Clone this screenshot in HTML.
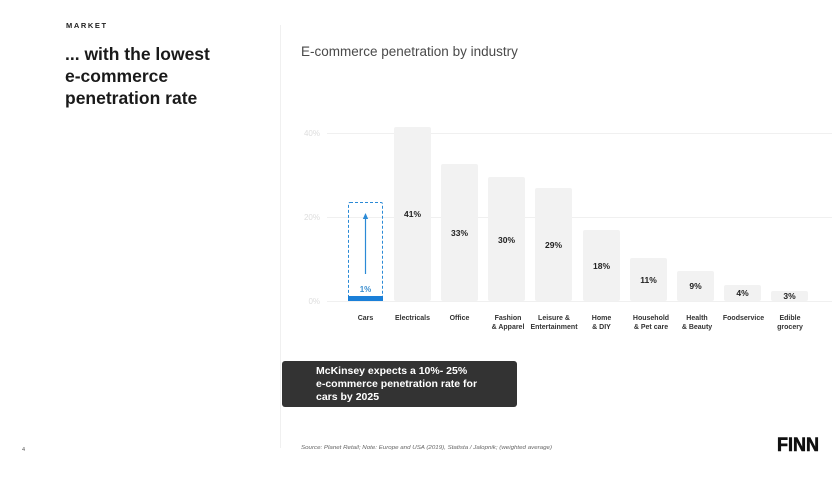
<!DOCTYPE html>
<html><head><meta charset="utf-8"><style>
html,body{margin:0;padding:0;background:#fff;}
body{width:840px;height:473px;overflow:hidden;font-family:"Liberation Sans",sans-serif;}
</style></head><body>
<svg width="840" height="473" viewBox="0 0 840 473" xmlns="http://www.w3.org/2000/svg" font-family="Liberation Sans, sans-serif">
<text x="66" y="28" font-size="7.5" font-weight="bold" letter-spacing="1.6" fill="#222">MARKET</text>
<text font-size="17.5" font-weight="bold" fill="#1a1a1a">
<tspan x="65" y="60">... with the lowest</tspan>
<tspan x="65" y="82">e-commerce</tspan>
<tspan x="65" y="104">penetration rate</tspan>
</text>
<line x1="280.5" y1="25" x2="280.5" y2="448" stroke="#f0f0f0" stroke-width="1"/>
<text x="301" y="56" font-size="13.5" fill="#4a4a4a">E-commerce penetration by industry</text>
<g stroke="#f0f0f0" stroke-width="1">
<line x1="327" y1="133.5" x2="832" y2="133.5"/>
<line x1="327" y1="217.5" x2="832" y2="217.5"/>
<line x1="327" y1="301.5" x2="832" y2="301.5"/>
</g>
<g font-size="8" fill="#ddd" text-anchor="end">
<text x="320" y="136">40%</text><text x="320" y="220">20%</text><text x="320" y="304">0%</text>
</g>
<g fill="#f2f2f2">
<rect x="394" y="127" width="37" height="174" rx="2"/>
<rect x="441" y="164" width="37" height="137" rx="2"/>
<rect x="488" y="177" width="37" height="124" rx="2"/>
<rect x="535" y="188" width="37" height="113" rx="2"/>
<rect x="583" y="230" width="37" height="71" rx="2"/>
<rect x="630" y="258" width="37" height="43" rx="2"/>
<rect x="677" y="271" width="37" height="30" rx="2"/>
<rect x="724" y="285" width="37" height="16" rx="2"/>
<rect x="771" y="291" width="37" height="10" rx="2"/>
</g>
<rect x="348.5" y="202.5" width="34" height="98" fill="none" stroke="#2b8ad6" stroke-width="1" stroke-dasharray="3,2" rx="1.5"/>
<rect x="348" y="296" width="35" height="5" fill="#1a7fd8"/>
<line x1="365.5" y1="274" x2="365.5" y2="218" stroke="#2b8ad6" stroke-width="1.2"/>
<polygon points="365.5,213 362.8,219 368.2,219" fill="#2b8ad6"/>
<text x="365.5" y="292" font-size="8" font-weight="bold" fill="#3b8fd0" text-anchor="middle">1%</text>
<g font-size="8.5" font-weight="bold" fill="#222" text-anchor="middle">
<text x="412.5" y="217">41%</text>
<text x="459.5" y="236">33%</text>
<text x="506.5" y="243">30%</text>
<text x="553.5" y="248">29%</text>
<text x="601.5" y="269">18%</text>
<text x="648.5" y="283">11%</text>
<text x="695.5" y="289">9%</text>
<text x="742.5" y="296">4%</text>
<text x="789.5" y="299">3%</text>
</g>
<g font-size="7" font-weight="bold" fill="#333" text-anchor="middle">
<text x="365.5" y="320">Cars</text>
<text x="412.5" y="320">Electricals</text>
<text x="459.5" y="320">Office</text>
<text x="508" y="320">Fashion</text><text x="508" y="329">&amp; Apparel</text>
<text x="554" y="320">Leisure &amp;</text><text x="554" y="329">Entertainment</text>
<text x="601.5" y="320">Home</text><text x="601.5" y="329">&amp; DIY</text>
<text x="651" y="320">Household</text><text x="651" y="329">&amp; Pet care</text>
<text x="697" y="320">Health</text><text x="697" y="329">&amp; Beauty</text>
<text x="743.5" y="320">Foodservice</text>
<text x="790" y="320">Edible</text><text x="790" y="329">grocery</text>
</g>
<rect x="282" y="361" width="235" height="46" rx="3" fill="#333"/>
<g font-size="10.5" font-weight="bold" fill="#fff">
<text x="316" y="374">McKinsey expects a 10%- 25%</text>
<text x="316" y="387">e-commerce penetration rate for</text>
<text x="316" y="400">cars by 2025</text>
</g>
<text x="301" y="449" font-size="5.5" font-style="italic" fill="#666" textLength="251" lengthAdjust="spacingAndGlyphs">Source: Planet Retail; Note: Europe and USA (2019), Statista / Jalopnik; (weighted average)</text>
<text x="22" y="451" font-size="5.5" fill="#555">4</text>
<text x="777" y="451" font-size="19" font-weight="bold" fill="#111" stroke="#111" stroke-width="0.6" textLength="42" lengthAdjust="spacingAndGlyphs">FINN</text>
</svg>
</body></html>
